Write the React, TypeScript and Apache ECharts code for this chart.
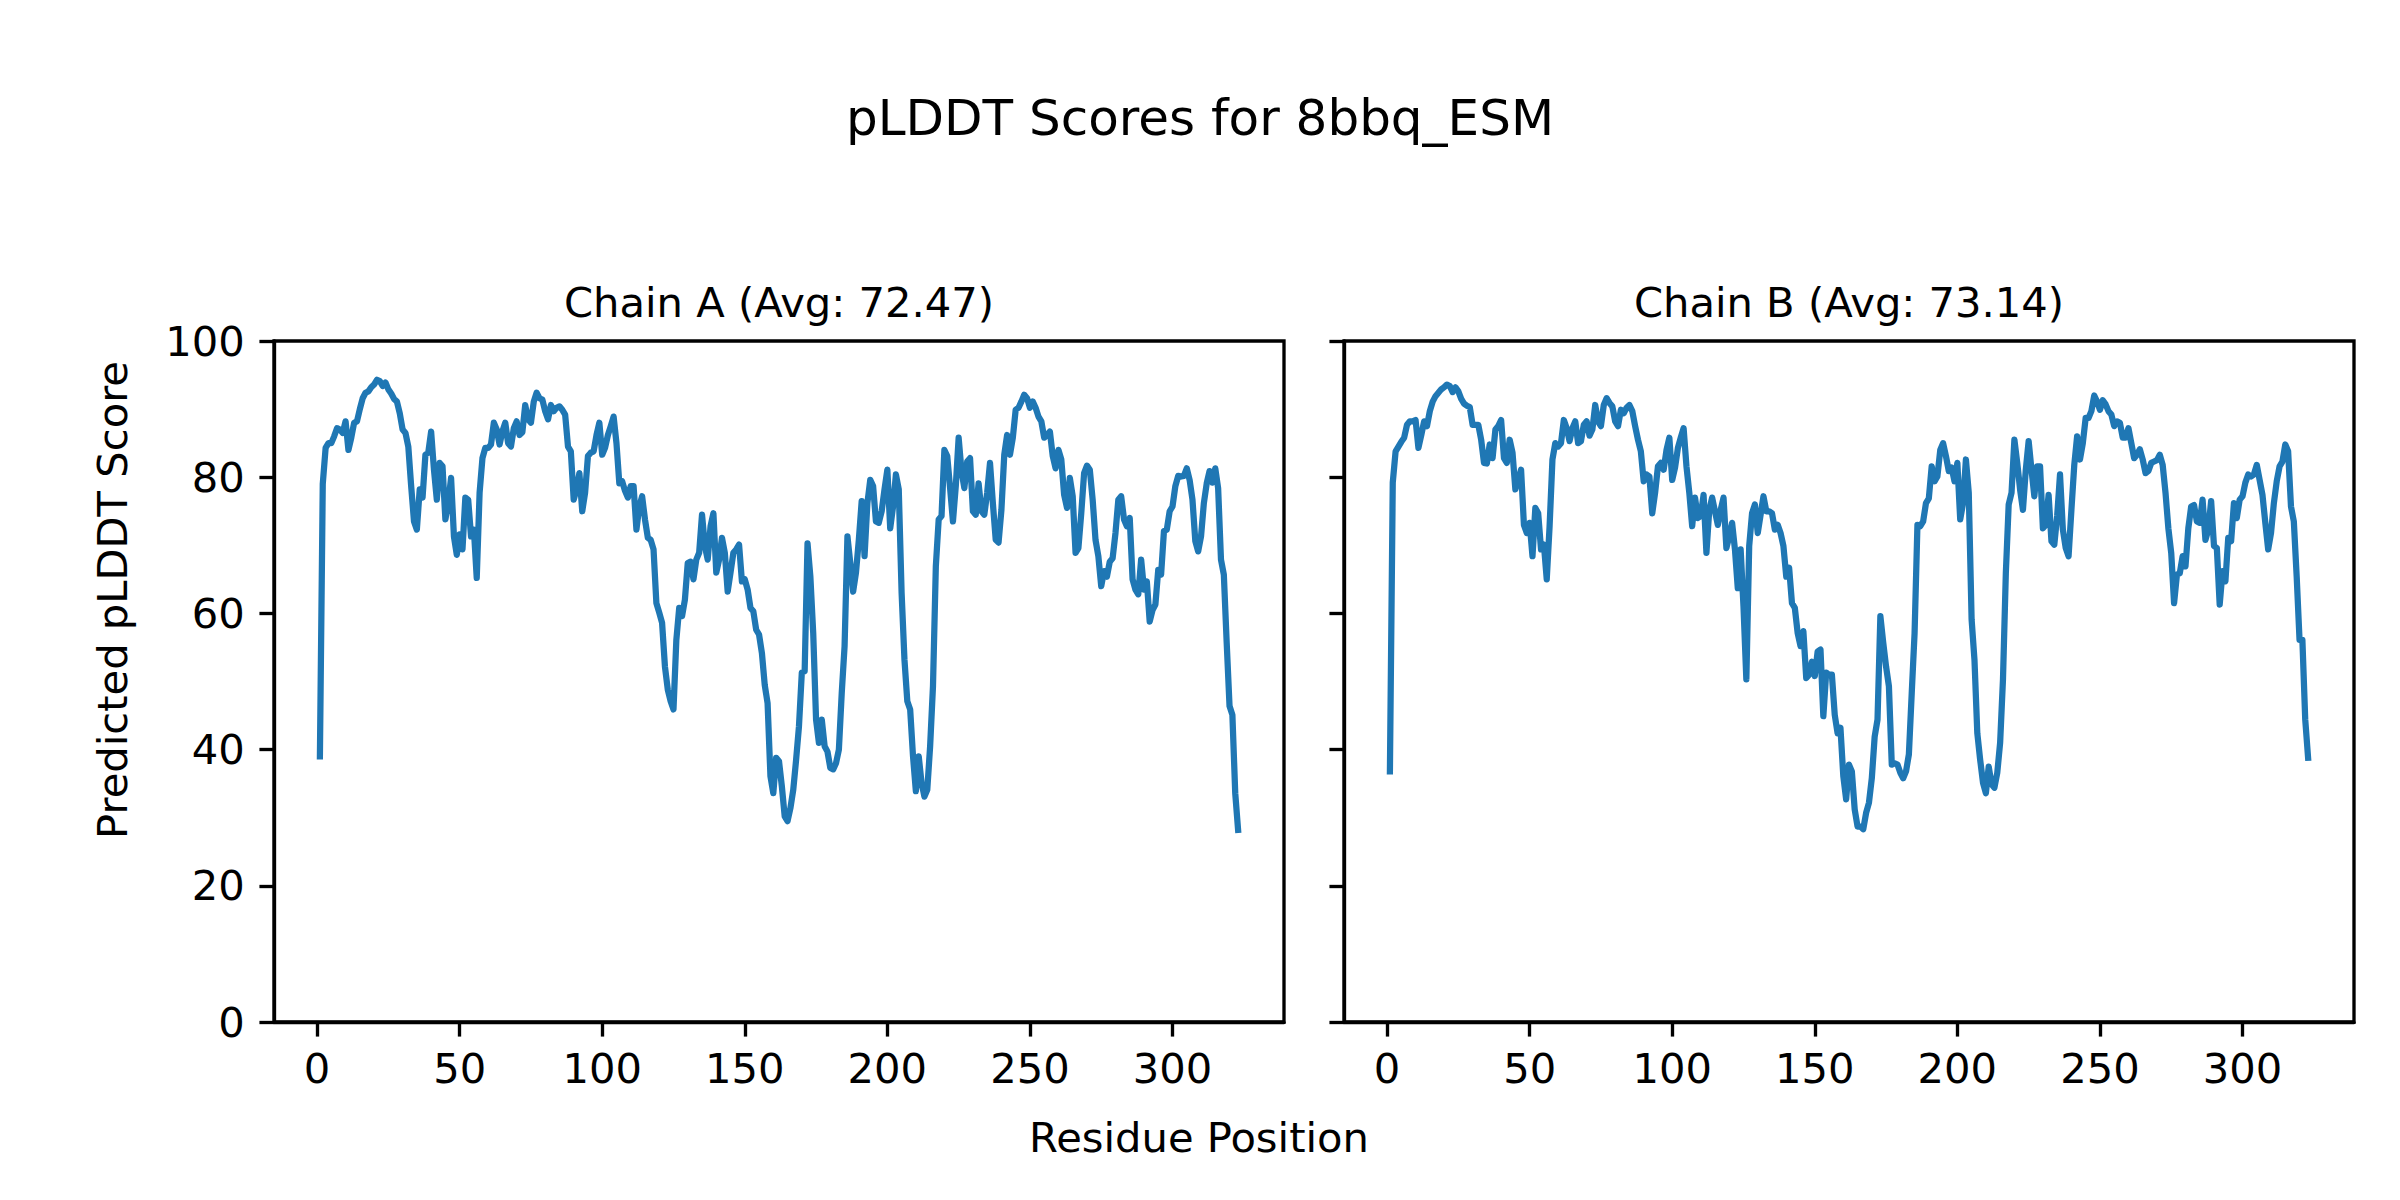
import React, { useEffect, useRef } from "react";
import * as echarts from "echarts";

// pLDDT per residue, chain A (residues 1..323)
const chainA = [
  39, 79, 84.3, 85, 85, 86, 87.2, 87, 86.5, 88.2,
  84, 85.8, 88, 88.2, 90, 91.6, 92.4, 92.6, 93.2, 93.6,
  94.3, 94.1, 93.4, 93.9, 92.9, 92.3, 91.5, 91.1, 89.4, 87,
  86.5, 84.5, 78.7, 73.5, 72.3, 78.2, 77, 83.3, 83.6, 86.7,
  81.1, 76.7, 82.1, 81.6, 73.8, 76.2, 79.9, 71.3, 68.6, 71.6,
  69.4, 77, 76.7, 71.3, 72.3, 65.2, 77.7, 82.8, 84.3, 84.3,
  84.8, 88, 87, 84.8, 86.7, 88, 85, 84.5, 87.2, 88.2,
  86.2, 86.6, 90.6, 88.5, 88, 91.1, 92.4, 91.6, 91.4, 89.7,
  88.5, 90.6, 89.7, 90.2, 90.4, 89.9, 89.2, 84.5, 83.8, 76.7,
  78.2, 80.6, 75, 77.7, 83.1, 83.6, 83.8, 86.2, 88, 83.3,
  84.3, 86.2, 87.5, 88.9, 85, 79.1, 79.4, 78, 77, 78.7,
  78.7, 72.3, 75.7, 77.2, 73.8, 71.1, 70.8, 69.4, 61.5, 60.1,
  58.6, 52.2, 48.8, 47.1, 45.9, 56.1, 60.8, 59.6, 62, 67.4,
  67.6, 65, 67.9, 68.9, 74.5, 69.9, 67.9, 72.8, 74.7, 66,
  67.9, 71.1, 68.9, 63.2, 66, 68.9, 69.4, 70.1, 64.7, 65,
  63.5, 60.8, 60.3, 57.6, 56.9, 54.2, 49.5, 46.8, 36.1, 33.6,
  38.8, 38.3, 34.6, 30.2, 29.5, 31.4, 34.1, 38.5, 43.4, 51.3,
  51.5, 70.3, 65.4, 57.1, 44.4, 41, 44.4, 40.5, 39.7, 37.3,
  37.1, 38, 40, 48.3, 55.2, 71.3, 67.4, 63.2, 66, 70.8,
  76.5, 68.4, 76.2, 79.6, 78.7, 73.5, 73.3, 75, 78.2, 81.1,
  72.5, 75.7, 80.4, 78.2, 63, 53.2, 47.1, 45.9, 39, 33.9,
  39, 35.1, 33.1, 34.1, 40.5, 49.3, 66.9, 73.8, 74.3, 84,
  83.1, 78.4, 73.5, 78.7, 85.8, 80.9, 78.4, 82.3, 82.8, 75,
  74.5, 79.1, 75, 74.5, 77.7, 82.1, 76.2, 70.8, 70.4, 75.2,
  83.3, 86.2, 83.3, 85.8, 89.9, 90.2, 91.1, 92.1, 91.6, 90.2,
  91.1, 90.2, 88.9, 88.2, 85.8, 86.2, 86.7, 83.1, 81.3, 84,
  82.6, 77.4, 75.5, 79.9, 77.2, 68.9, 69.6, 74.7, 80.6, 81.7,
  81.1, 76.7, 70.8, 68.4, 64, 66.2, 65.4, 67.6, 68.1, 71.8,
  76.7, 77.2, 73.8, 72.8, 74, 65, 63.5, 62.8, 67.9, 63.5,
  64.7, 58.8, 60.5, 61.3, 66.4, 65.7, 72.1, 72.3, 75, 75.7,
  78.7, 80.2, 80.1, 80.2, 81.3, 79.6, 76.7, 70.6, 69.1, 71.3,
  76.2, 79.1, 80.9, 79.2, 81.3, 78.4, 67.9, 65.7, 55.7, 46.4,
  45.1, 33.6, 28.2,
];

// pLDDT per residue, chain B (residues 1..323)
const chainB = [
  36.8, 79.2, 83.8, 84.5, 85.2, 85.8, 87.7, 88.2, 88.2, 88.4,
  84.3, 86.2, 88.2, 87.5, 89.7, 91.1, 91.9, 92.4, 92.9, 93.2,
  93.6, 93.4, 92.5, 93.2, 92.6, 91.5, 90.8, 90.5, 90.3, 87.7,
  87.7, 87.7, 85.5, 82.1, 82, 84.8, 82.8, 87, 87.5, 88.4,
  82.8, 82.1, 85.5, 83.6, 78.2, 79.6, 81.1, 73, 71.8, 73.3,
  68.4, 75.5, 74.7, 69.4, 70.1, 65, 72.8, 82.6, 85, 84.5,
  85, 88.4, 87.2, 85.3, 87.2, 88.2, 85, 85.3, 87.7, 88.2,
  86.1, 87, 90.6, 88.2, 87.5, 90.6, 91.6, 90.9, 90.4, 88.2,
  87.5, 89.9, 89.4, 90.2, 90.6, 89.7, 87.5, 85.5, 83.8, 79.4,
  80.4, 80.1, 74.7, 77.7, 81.6, 82.1, 81.1, 84, 85.8, 79.6,
  81.4, 84.3, 85.8, 87.2, 81.6, 77.7, 72.8, 77, 74, 74.3,
  77.4, 68.9, 75.2, 77, 75, 73, 75.2, 77, 69.6, 71.3,
  73.3, 69.4, 63.7, 69.4, 61, 50.3, 69.9, 74.7, 76, 71.8,
  74.5, 77.2, 75, 75, 74.7, 72.3, 73, 71.8, 69.9, 65.4,
  66.7, 61.5, 60.8, 57.1, 55.2, 57.4, 50.5, 51, 52.9, 50.8,
  54.4, 54.7, 44.9, 51.3, 51, 51, 45.1, 42.4, 43.2, 36.1,
  32.7, 37.8, 36.8, 31.2, 28.7, 28.7, 28.3, 30.7, 32.2, 35.8,
  41.9, 44.4, 59.6, 55.7, 52.2, 49.3, 37.8, 38, 37.8, 36.6,
  35.8, 36.8, 39.3, 48.3, 57.1, 73, 72.8, 73.5, 76.2, 76.9,
  81.6, 79.4, 80.1, 84, 85, 83.1, 80.9, 81.4, 79.4, 82.1,
  73.8, 76.2, 82.6, 77.7, 59.1, 53.2, 42.4, 38.5, 35.1, 33.6,
  37.5, 34.9, 34.4, 36.6, 41, 50.3, 65.9, 76, 77.7, 85.5,
  82.1, 78.2, 75.2, 81.1, 85.3, 81.1, 77.2, 81.6, 81.6, 72.5,
  73, 77.4, 70.6, 70.1, 74.3, 80.4, 72.3, 69.6, 68.4, 75.2,
  81.8, 86, 82.6, 85, 88.7, 88.7, 89.7, 92, 91.1, 89.9,
  91.3, 90.7, 89.7, 89.2, 87.5, 88.2, 88, 85.8, 85.8, 87.2,
  85, 82.8, 83.3, 84.1, 82.6, 80.6, 80.9, 82.1, 82.3, 82.5,
  83.3, 81.8, 77.7, 72.5, 68.9, 61.5, 65.7, 65.9, 68.4, 66.9,
  72.5, 75.7, 75.9, 73.5, 73.3, 76.7, 70.8, 72.3, 76.5, 69.9,
  69.6, 61.3, 66.2, 64.7, 71.1, 70.6, 76.2, 74, 76.7, 77.2,
  79.2, 80.4, 80.1, 80.4, 81.8, 79.6, 77.4, 73.3, 69.4, 71.8,
  76.2, 79.4, 81.6, 82.3, 84.8, 83.8, 75.7, 73.5, 65.4, 56.1,
  56.1, 44.4, 38.8,
];

const xTicks = [0, 50, 100, 150, 200, 250, 300];
const yTicks = [0, 20, 40, 60, 80, 100];
const chainTitles = ["Chain A (Avg: 72.47)", "Chain B (Avg: 73.14)"];
const figTitle = "pLDDT Scores for 8bbq_ESM";
const xLabel = "Residue Position";
const yLabel = "Predicted pLDDT Score";

const FONT = "DejaVu Sans";
const PT = 300 / 72;
const BLUE = "#1f77b4";

export default function App() {
  const ref = useRef<HTMLDivElement>(null);

  useEffect(() => {
    const chart = echarts.init(ref.current!, null, { renderer: "svg", width: 2400, height: 1200 });
    const chains = [chainA, chainB];
    const grids = [
      { left: 274, top: 341, width: 1010, height: 681 },
      { left: 1344, top: 341, width: 1010, height: 681 },
    ];
    const tickLen = 3.5 * PT;
    const lw = 0.8 * PT;
    const fs = 10 * PT;

    const xAxes = chains.map((c, i) => {
      const n = c.length;
      return {
        type: "value",
        gridIndex: i,
        min: 1 - 0.05 * (n - 1),
        max: n + 0.05 * (n - 1),
        axisLine: { show: true, onZero: false, lineStyle: { color: "#000", width: lw } },
        axisTick: { show: true, length: tickLen, lineStyle: { color: "#000", width: lw }, customValues: xTicks },
        axisLabel: { show: true, customValues: xTicks, margin: tickLen + 3.5 * PT - 4, fontSize: fs, fontFamily: FONT, color: "#000" },
        splitLine: { show: false },
      };
    });
    const yAxes = chains.map((_, i) => ({
      type: "value",
      gridIndex: i,
      min: yTicks[0],
      max: yTicks[yTicks.length - 1],
      interval: yTicks[1] - yTicks[0],
      axisLine: { show: true, onZero: false, lineStyle: { color: "#000", width: lw } },
      axisTick: { show: true, length: tickLen, lineStyle: { color: "#000", width: lw } },
      axisLabel: { show: i === 0, margin: tickLen + 3.5 * PT, fontSize: fs, fontFamily: FONT, color: "#000" },
      splitLine: { show: false },
    }));

    const series = chains.map((c, i) => ({
      type: "line",
      xAxisIndex: i,
      yAxisIndex: i,
      data: c.map((v, k) => [k + 1, v]),
      showSymbol: false,
      symbol: "none",
      lineStyle: { color: BLUE, width: 1.5 * PT, join: "round", cap: "square" },
      silent: true,
    }));

    const titleGraphics = chainTitles.map((t, i) => ({
      type: "text",
      x: grids[i].left + grids[i].width / 2,
      y: 302,
      style: { text: t, fontSize: fs, fontFamily: FONT, fill: "#000", align: "center", verticalAlign: "middle" },
    }));

    chart.setOption({
      animation: false,
      backgroundColor: "#fff",
      grid: grids.map((g) => ({ ...g, show: true, borderColor: "#000", borderWidth: lw, backgroundColor: "transparent" })),
      xAxis: xAxes,
      yAxis: yAxes,
      series,
      graphic: [
        {
          type: "text",
          x: 1200,
          y: 118,
          style: { text: figTitle, fontSize: 12 * PT, fontFamily: FONT, fill: "#000", align: "center", verticalAlign: "middle" },
        },
        ...titleGraphics,
        {
          type: "text",
          x: 1199,
          y: 1137,
          style: { text: xLabel, fontSize: fs, fontFamily: FONT, fill: "#000", align: "center", verticalAlign: "middle" },
        },
        {
          type: "text",
          x: 112,
          y: 600,
          rotation: Math.PI / 2,
          style: { text: yLabel, fontSize: fs, fontFamily: FONT, fill: "#000", align: "center", verticalAlign: "middle" },
        },
      ],
    });
    return () => chart.dispose();
  }, []);

  return (
    <div
      ref={ref}
      style={{ position: "fixed", left: 0, top: 0, width: 2400, height: 1200, background: "#fff" }}
    />
  );
}
